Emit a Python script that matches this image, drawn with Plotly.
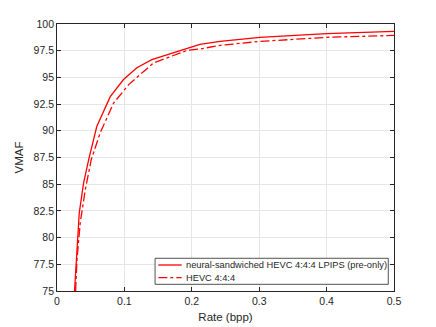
import plotly.graph_objects as go

# rate-distortion curves
rate_neural = [0.026, 0.0286, 0.033, 0.0394, 0.047, 0.059, 0.079, 0.0987,
               0.1185, 0.1407, 0.1827, 0.212, 0.242, 0.301, 0.4, 0.5]
vmaf_neural = [75.0, 77.9, 82.3, 85.1, 87.3, 90.4, 93.2, 94.8,
               95.9, 96.66, 97.53, 98.1, 98.37, 98.75, 99.09, 99.31]

rate_hevc = [0.0276, 0.0296, 0.0345, 0.042, 0.0508, 0.064, 0.084, 0.106,
             0.143, 0.193, 0.212, 0.242, 0.301, 0.4, 0.5]
vmaf_hevc = [75.0, 77.9, 81.4, 84.5, 87.3, 89.8, 92.6, 94.3,
             96.35, 97.53, 97.66, 98.0, 98.37, 98.75, 98.93]

names = ["neural-sandwiched HEVC 4:4:4 LPIPS (pre-only)", "HEVC 4:4:4"]
dashes = ["solid", "dashdot"]

x_ticks = [0, 0.1, 0.2, 0.3, 0.4, 0.5]
x_labels = ["0", "0.1", "0.2", "0.3", "0.4", "0.5"]
y_ticks = [75, 77.5, 80, 82.5, 85, 87.5, 90, 92.5, 95, 97.5, 100]
y_labels = ["75", "77.5", "80", "82.5", "85", "87.5", "90", "92.5", "95", "97.5", "100"]

RED = "#ff0000"
INK = "#262626"

fig = go.Figure()

for xs, ys, name, dash in zip([rate_neural, rate_hevc], [vmaf_neural, vmaf_hevc], names, dashes):
    fig.add_trace(go.Scatter(
        x=xs, y=ys,
        mode="lines",
        line=dict(color=RED, width=1.3, dash=dash),
        name=name,
        showlegend=False,
    ))

# compact MATLAB-style legend box (plotly's own legend rows are too tall)
fig.add_shape(type="rect", xref="paper", yref="paper",
              x0=0.291, x1=0.983, y0=0.025, y1=0.1225,
              line=dict(color=INK, width=0.8), fillcolor="white", layer="above")
for name, dash, ly in zip(names, dashes, [0.0974, 0.0498]):
    fig.add_shape(type="line", xref="paper", yref="paper",
                  x0=0.3006, x1=0.370, y0=ly, y1=ly,
                  line=dict(color=RED, width=1.3, dash=dash), layer="above")
    fig.add_annotation(xref="paper", yref="paper", x=0.377, y=ly,
                       xanchor="left", yanchor="middle", text=name, showarrow=False,
                       font=dict(size=9.3, color=INK))

axis_style = dict(
    showline=True, linecolor=INK, linewidth=0.8, mirror="ticks",
    ticks="inside", ticklen=4, tickcolor=INK,
    showgrid=True, gridcolor="#e6e6e6", gridwidth=1,
    zeroline=False, automargin=False,
    tickfont=dict(size=10.5, color=INK),
)

fig.update_layout(
    width=436, height=327,
    margin=dict(l=57, r=42, t=24, b=36),
    paper_bgcolor="white", plot_bgcolor="white",
    font=dict(family="Liberation Sans, Arial, sans-serif", color=INK),
    showlegend=False,
)
fig.update_xaxes(axis_style, range=[0, 0.5], tickvals=x_ticks, ticktext=x_labels,
                 title=dict(text="Rate (bpp)", font=dict(size=11.5), standoff=7))
fig.update_yaxes(axis_style, range=[75, 100], tickvals=y_ticks, ticktext=y_labels,
                 title=dict(text="VMAF", font=dict(size=11.5), standoff=7))

# page body has a default 8px margin; drop it so the figure sits at the window origin
fig.write_html("out.html", config={"displayModeBar": False},
               post_script="document.body.style.margin='0';")
